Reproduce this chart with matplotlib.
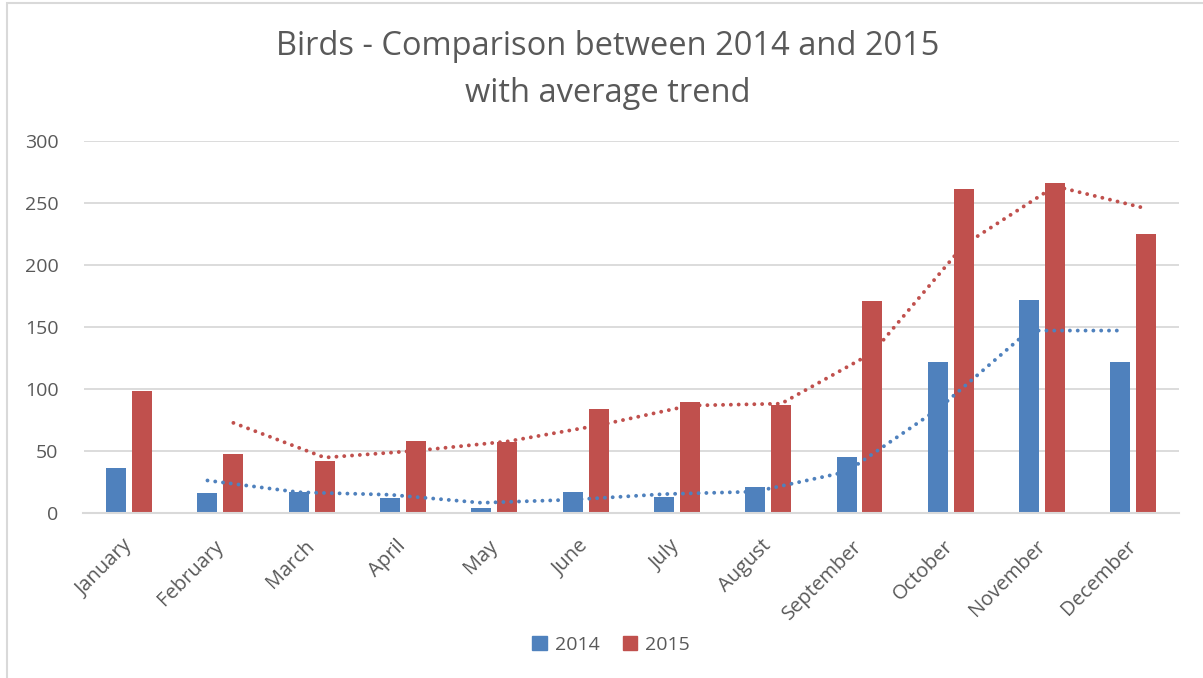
import matplotlib
matplotlib.use("Agg")
import matplotlib.pyplot as plt
from matplotlib.patches import Patch, Rectangle
import numpy as np

months = ["January", "February", "March", "April", "May", "June", "July",
          "August", "September", "October", "November", "December"]
birds_2014 = [36, 16, 17, 12, 4, 17, 13, 21, 45, 122, 172, 122]
birds_2015 = [98, 47, 42, 58, 57, 84, 89, 87, 171, 261, 266, 225]
yticks = [0, 50, 100, 150, 200, 250, 300]
series_names = ["2014", "2015"]

BLUE = "#4F81BD"
RED = "#C0504D"
TXT = "#595959"
GRID = "#D9D9D9"

W, H = 1203, 678
fig = plt.figure(figsize=(W / 100, H / 100), dpi=100)
ax = fig.add_axes([83.5 / W, 1 - 512.7 / H, (1179 - 83.5) / W, (512.7 - 141) / H])

x = np.arange(len(months))
bw = 0.219
off = 0.142
ax.bar(x - off, birds_2014, width=bw, color=BLUE, zorder=2)
ax.bar(x + off, birds_2015, width=bw, color=RED, zorder=2)

def moving_avg(v, n=2):
    v = np.asarray(v, float)
    return np.convolve(v, np.ones(n) / n, mode="valid")

ma14 = moving_avg(birds_2014)
ma15 = moving_avg(birds_2015)
dot = dict(linestyle=(0, (0.01, 2.0)), dash_capstyle="round", lw=2.8, zorder=3)
ax.plot(x[1:] - off, ma14, color=BLUE, **dot)
ax.plot(x[1:] + off, ma15, color=RED, **dot)

ax.set_xlim(-0.5, len(months) - 0.5)
ax.set_ylim(0, 300)
ax.set_yticks(yticks)
ax.set_yticklabels([str(t) for t in yticks], fontsize=14, color=TXT, family="Open Sans")
ax.set_xticks(x)
ax.set_xticklabels(months, rotation=45, ha="right", va="center", rotation_mode="anchor",
                   fontsize=14.5, color=TXT, family="Open Sans")
ax.tick_params(axis="x", length=0, pad=22)
ax.tick_params(axis="y", length=0, pad=18)
ax.grid(axis="y", color=GRID, lw=1.3, zorder=0)
for s in ["top", "right", "left"]:
    ax.spines[s].set_visible(False)
ax.spines["bottom"].set_color(GRID)
ax.spines["bottom"].set_linewidth(1.5)
ax.spines["bottom"].set_zorder(4)

fig.text(0.505, 1 - 55 / H, "Birds - Comparison between 2014 and 2015", ha="center",
         va="baseline", fontsize=23.5, color=TXT, family="Open Sans")
fig.text(0.505, 1 - 102 / H, "with average trend", ha="center",
         va="baseline", fontsize=23.5, color=TXT, family="Open Sans")

handles = [Patch(color=BLUE), Patch(color=RED)]
fig.legend(handles, series_names, loc="center", bbox_to_anchor=(0.508, 1 - 645 / H),
           ncol=2, frameon=False, handlelength=0.75, handleheight=0.75,
           handletextpad=0.4, columnspacing=1.2,
           prop={"family": "Open Sans", "size": 14}, labelcolor=TXT)

fig.patches.append(Rectangle((7 / W, -0.01), 1.2, 1 - 3 / H + 0.01, transform=fig.transFigure,
                             fill=False, edgecolor=GRID, lw=1.5))

fig.savefig("out.png", dpi=100)
